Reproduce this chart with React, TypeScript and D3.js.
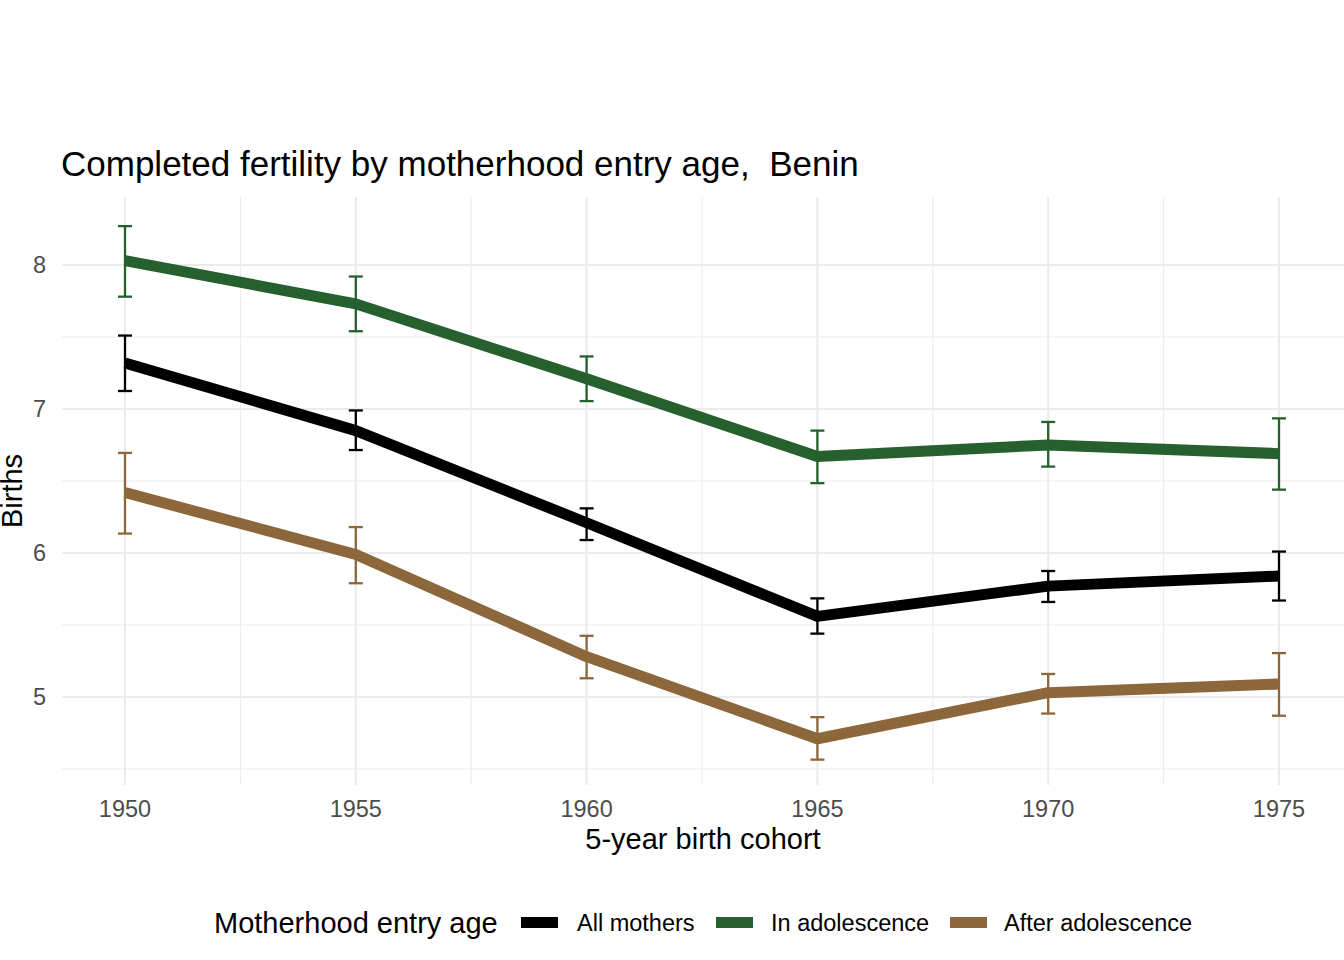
import { useEffect } from "react";
import * as d3 from "d3";

const cohorts = [1950, 1955, 1960, 1965, 1970, 1975];

const allMothers = [7.32, 6.85, 6.21, 5.56, 5.77, 5.84];
const allLow = [7.125, 6.715, 6.09, 5.44, 5.66, 5.67];
const allHigh = [7.51, 6.99, 6.31, 5.685, 5.875, 6.01];

const inAdol = [8.03, 7.73, 7.21, 6.67, 6.75, 6.69];
const inLow = [7.78, 7.54, 7.055, 6.485, 6.6, 6.44];
const inHigh = [8.27, 7.92, 7.365, 6.85, 6.91, 6.935];

const afterAdol = [6.42, 5.99, 5.28, 4.71, 5.03, 5.09];
const afterLow = [6.135, 5.79, 5.13, 4.565, 4.885, 4.87];
const afterHigh = [6.695, 6.18, 5.425, 4.86, 5.16, 5.305];

const seriesNames = ["All mothers", "In adolescence", "After adolescence"];
const seriesColors = ["#000000", "#26602e", "#8c673b"];

const yTicks = [5, 6, 7, 8];
const yMinor = [4.5, 5.5, 6.5, 7.5];
const xMinor = [1952.5, 1957.5, 1962.5, 1967.5, 1972.5];

const FONT = "'Liberation Sans', Arial, Helvetica, sans-serif";

export default function App() {
  useEffect(() => {
    document.body.style.margin = "0";
  }, []);

  const width = 1344;
  const height = 960;
  const panel = { left: 62, right: 1344, top: 197, bottom: 785 };

  const x = d3.scaleLinear().domain([1950, 1975]).range([125, 1279]);
  const y = d3.scaleLinear().domain([5, 8]).range([697, 265]);

  const series = [
    { mean: allMothers, lo: allLow, hi: allHigh },
    { mean: inAdol, lo: inLow, hi: inHigh },
    { mean: afterAdol, lo: afterLow, hi: afterHigh },
  ];

  const line = d3
    .line<number>()
    .x((_, i) => x(cohorts[i]))
    .y((d) => y(d));

  const legendKeys = [521, 716, 950];
  const legendLabels = [577, 771, 1004];

  return (
    <svg width={width} height={height} style={{ display: "block", fontFamily: FONT }}>
      <rect width={width} height={height} fill="#ffffff" />
      {/* grid */}
      {yMinor.map((t) => (
        <line key={"ym" + t} x1={panel.left} x2={panel.right} y1={y(t)} y2={y(t)} stroke="#ebebeb" strokeWidth={1.1} />
      ))}
      {xMinor.map((t) => (
        <line key={"xm" + t} x1={x(t)} x2={x(t)} y1={panel.top} y2={panel.bottom} stroke="#ebebeb" strokeWidth={1.1} />
      ))}
      {yTicks.map((t) => (
        <line key={"y" + t} x1={panel.left} x2={panel.right} y1={y(t)} y2={y(t)} stroke="#ebebeb" strokeWidth={2.1} />
      ))}
      {cohorts.map((t) => (
        <line key={"x" + t} x1={x(t)} x2={x(t)} y1={panel.top} y2={panel.bottom} stroke="#ebebeb" strokeWidth={2.1} />
      ))}

      {/* lines */}
      {series.map((s, k) => (
        <path
          key={"l" + k}
          d={line(s.mean) || ""}
          fill="none"
          stroke={seriesColors[k]}
          strokeWidth={11}
          strokeLinejoin="round"
          strokeLinecap="butt"
        />
      ))}

      {/* error bars */}
      {series.map((s, k) => (
        <g key={"e" + k} stroke={seriesColors[k]} strokeWidth={2.3} fill="none">
          {cohorts.map((c, i) => (
            <g key={i}>
              <line x1={x(c)} x2={x(c)} y1={y(s.lo[i])} y2={y(s.hi[i])} />
              <line x1={x(c) - 7} x2={x(c) + 7} y1={y(s.lo[i])} y2={y(s.lo[i])} />
              <line x1={x(c) - 7} x2={x(c) + 7} y1={y(s.hi[i])} y2={y(s.hi[i])} />
            </g>
          ))}
        </g>
      ))}

      {/* axes text */}
      {yTicks.map((t) => (
        <text key={"yt" + t} x={46} y={y(t) + 8.4} textAnchor="end" fontSize={23.5} fill="#4d4d4d">
          {t}
        </text>
      ))}
      {cohorts.map((t) => (
        <text key={"xt" + t} x={x(t)} y={817} textAnchor="middle" fontSize={23.5} fill="#4d4d4d">
          {t}
        </text>
      ))}
      <text x={(panel.left + panel.right) / 2} y={849} textAnchor="middle" fontSize={29} fill="#000">
        5-year birth cohort
      </text>
      <text transform={`translate(22, 491) rotate(-90)`} textAnchor="middle" fontSize={29} fill="#000">
        Births
      </text>

      {/* title */}
      <text x={61} y={176} fontSize={35} fill="#000">
        Completed fertility by motherhood entry age,{"\u00a0\u00a0"}Benin
      </text>

      {/* legend */}
      <text x={214} y={933} fontSize={29} fill="#000">
        Motherhood entry age
      </text>
      {seriesNames.map((n, k) => (
        <g key={"lg" + k}>
          <rect x={legendKeys[k]} y={917} width={37} height={11} fill={seriesColors[k]} />
          <text x={legendLabels[k]} y={931} fontSize={23.5} fill="#000">
            {n}
          </text>
        </g>
      ))}
    </svg>
  );
}
